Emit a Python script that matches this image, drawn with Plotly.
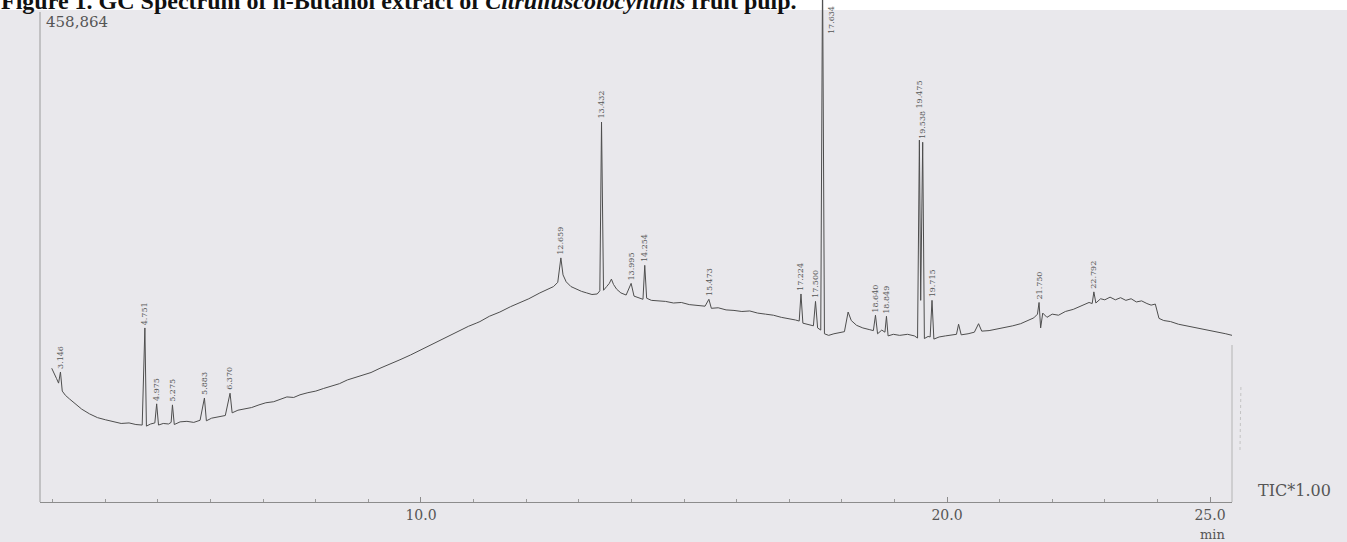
import plotly.graph_objects as go

# ---------------- data ----------------
retention_min = [
    2.98, 3.02, 3.07, 3.11, 3.146, 3.18, 3.24, 3.32, 3.42, 3.55, 3.70, 3.85, 4.00, 4.15, 4.30, 4.45,
    4.58, 4.70, 4.751, 4.78, 4.86, 4.94, 4.975, 5.01, 5.10, 5.20, 5.25, 5.275, 5.31, 5.42, 5.55, 5.68,
    5.80, 5.883, 5.92, 6.02, 6.15, 6.28, 6.370, 6.41, 6.52, 6.65, 6.78, 6.92, 7.05, 7.20, 7.32, 7.45,
    7.58, 7.70, 7.85, 8.00, 8.15, 8.30, 8.45, 8.60, 8.75, 8.90, 9.05, 9.22, 9.40, 9.60, 9.80, 9.98,
    10.15, 10.36, 10.55, 10.74, 10.90, 11.05, 11.12, 11.30, 11.50, 11.70, 11.88, 12.05, 12.26, 12.40,
    12.52, 12.60, 12.659, 12.70, 12.76, 12.85, 12.95, 13.05, 13.15, 13.25, 13.35, 13.40, 13.432, 13.47,
    13.53, 13.58, 13.62, 13.66, 13.72, 13.80, 13.90, 13.995, 14.05, 14.15, 14.22, 14.254, 14.29, 14.38,
    14.50, 14.65, 14.80, 14.95, 15.10, 15.25, 15.40, 15.473, 15.52, 15.65, 15.80, 15.95, 16.10, 16.25,
    16.40, 16.55, 16.70, 16.85, 17.00, 17.12, 17.19, 17.224, 17.26, 17.36, 17.46, 17.500, 17.54, 17.60,
    17.634, 17.67, 17.75, 17.85, 17.95, 18.05, 18.12, 18.18, 18.28, 18.40, 18.52, 18.60, 18.640, 18.68,
    18.76, 18.82, 18.849, 18.88, 18.98, 19.10, 19.25, 19.38, 19.44, 19.475, 19.50, 19.538, 19.57, 19.64,
    19.68, 19.715, 19.75, 19.85, 19.97, 20.10, 20.18, 20.22, 20.27, 20.40, 20.52, 20.60, 20.66, 20.80,
    20.95, 21.10, 21.25, 21.40, 21.55, 21.65, 21.72, 21.750, 21.78, 21.82, 21.90, 22.00, 22.12, 22.25,
    22.40, 22.55, 22.70, 22.76, 22.792, 22.83, 22.92, 23.00, 23.10, 23.20, 23.30, 23.40, 23.50, 23.60,
    23.70, 23.80, 23.88, 23.96, 24.03, 24.12, 24.25, 24.40, 24.55, 24.70, 24.85, 25.00, 25.15, 25.30,
    25.42,
]
tic_counts = [
    126000, 121000, 116500, 112000, 122500, 104500, 100500, 97000, 92500, 87500, 83000, 79500, 77500, 75500, 74000, 74500,
    73000, 72500, 164000, 71500, 73500, 74500, 92500, 72500, 74000, 73500, 75000, 91500, 73000, 75500, 76000, 75000,
    77000, 98000, 76500, 79000, 80500, 81500, 102500, 84000, 86500, 87500, 89000, 91500, 93500, 94500, 97000, 99000,
    98500, 101000, 103000, 104500, 107000, 109500, 111500, 115000, 117500, 120000, 122000, 126000, 129500, 134000, 138500, 143000,
    147500, 152500, 157500, 162000, 165500, 168500, 170000, 175000, 179000, 184000, 187500, 191500, 197000, 200500,
    203000, 207000, 230000, 214000, 207500, 203000, 200500, 198500, 197000, 195500, 196000, 199000, 358000, 199500,
    203000, 206000, 210000, 205000, 200500, 197000, 195000, 206000, 194000, 192500, 191000, 223000, 192000, 190000,
    189500, 189000, 187500, 188000, 186000, 185500, 184500, 191000, 182500, 183000, 181000, 180500, 179500, 180000,
    178000, 177000, 176000, 174000, 173000, 171500, 170500, 196000, 168500, 167500, 166000, 189000, 164000, 162000,
    500000, 158500, 157000, 158500, 159500, 160500, 179000, 171000, 166500, 164000, 162500, 161500, 176000, 158500,
    162000, 160000, 175000, 156500, 158000, 157000, 158000, 156500, 154500, 341000, 190000, 339000, 154000, 156000,
    155500, 190000, 153500, 155500, 156500, 157000, 158000, 167500, 157500, 158500, 160000, 168000, 161000, 161500,
    163000, 164000, 166000, 168000, 171000, 173500, 177000, 188000, 164000, 178000, 174000, 177000, 176000, 179500,
    181500, 184500, 188000, 187000, 198000, 187500, 191500, 190500, 193000, 190500, 192500, 190000, 191500, 188500,
    189500, 187000, 185500, 186500, 173000, 171000, 170000, 167500, 166000, 164500, 163000, 162000, 160500, 158500,
    157000,
]

peak_rt = [3.146, 4.751, 4.975, 5.275, 5.883, 6.370, 12.659, 13.432, 13.995, 14.254, 15.473,
           17.224, 17.500, 17.634, 18.640, 18.849, 19.475, 19.538, 19.715, 21.750, 22.792]
peak_labels = ["3.146", "4.751", "4.975", "5.275", "5.883", "6.370", "12.659", "13.432", "13.995",
               "14.254", "15.473", "17.224", "17.500", "17.634", "18.640", "18.849", "19.475",
               "19.538", "19.715", "21.750", "22.792"]

full_scale = 458864
x_ticks = [10, 20, 25]
x_tick_labels = ["10.0", "20.0", "25.0"]
minor_ticks = list(range(3, 26))

X_RANGE = [2.757, 25.418]
Y_RANGE = [0, 473000]

# ---------------- figure ----------------
GRAY = "#555555"
fig = go.Figure()
fig.add_trace(go.Scatter(
    x=retention_min, y=tic_counts, mode="lines",
    line=dict(color="#4e4e4e", width=1), hoverinfo="x+y", showlegend=False,
))

annotations = []
n = len(peak_rt)
for i, (t, lab) in enumerate(zip(peak_rt, peak_labels)):
    tip = tic_counts[retention_min.index(t)]
    if tip >= Y_RANGE[1]:
        annotations.append(dict(x=t, y=Y_RANGE[1], xref="x", yref="y", text=lab, textangle=-90,
                                showarrow=False, xanchor="left", yanchor="top", xshift=2, yshift=-4,
                                font=dict(family="DejaVu Serif", size=8, color=GRAY)))
        continue
    shift = 1
    # stack label above its close neighbour
    if i + 1 < n and peak_rt[i + 1] - t < 0.08:
        shift += 29
    annotations.append(dict(x=t, y=tip, xref="x", yref="y", text=lab, textangle=-90,
                            showarrow=False, xanchor="center", yanchor="bottom", yshift=shift,
                            font=dict(family="DejaVu Serif", size=8, color=GRAY)))

PLOT_H = 502.0
def py(p):  # pixel from top -> paper y
    return (PLOT_H - p) / PLOT_H

annotations += [
    dict(text="<b>Figure 1. GC Spectrum of n-Butanol extract of <i>Citrulluscolocynthis</i> fruit pulp.</b>",
         xref="paper", yref="paper", x=0, y=1, xanchor="left", yanchor="bottom", xshift=-41, yshift=-16,
         showarrow=False, font=dict(family="Liberation Serif", size=24, color="#111111")),
    dict(text=f"{full_scale:,}", xref="paper", yref="paper", x=0, y=py(22), xanchor="left",
         yanchor="middle", xshift=4, showarrow=False,
         font=dict(family="DejaVu Serif", size=15, color=GRAY)),
    dict(text="TIC*1.00", xref="paper", yref="paper", x=1, y=py(490), xanchor="left",
         yanchor="middle", xshift=24, showarrow=False,
         font=dict(family="DejaVu Serif", size=16, color=GRAY)),
    dict(text="min", xref="x", yref="paper", x=25.05, y=0, xanchor="center", yanchor="middle",
         yshift=-32, showarrow=False, font=dict(family="DejaVu Serif", size=13, color=GRAY)),
]

shapes = [
    dict(type="rect", xref="paper", yref="paper", x0=-0.05, x1=1.2, y0=py(10), y1=1.02,
         fillcolor="white", line=dict(width=0), layer="below"),
    dict(type="line", xref="paper", yref="paper", x0=0, x1=0, y0=0, y1=py(12),
         line=dict(color="#9a9a9a", width=1)),
    dict(type="line", xref="paper", yref="paper", x0=1, x1=1, y0=0, y1=py(345),
         line=dict(color="#b4b4b4", width=1)),
    dict(type="line", xref="paper", yref="paper", x0=1.0067, x1=1.0075, y0=py(450), y1=py(385),
         line=dict(color="#c4c4c4", width=1, dash="dot")),
]

fig.update_layout(
    width=1347, height=542,
    margin=dict(l=40, r=115, t=0, b=40),
    paper_bgcolor="#e9e8ec", plot_bgcolor="#e9e8ec",
    annotations=annotations, shapes=shapes,
    xaxis=dict(range=X_RANGE, showgrid=False, zeroline=False, showline=True,
               linecolor="#8c8c8c", linewidth=1, ticks="inside", ticklen=5, tickcolor="#8c8c8c",
               tickvals=x_ticks, ticktext=x_tick_labels, ticklabelstandoff=0,
               tickfont=dict(family="DejaVu Serif", size=14, color=GRAY),
               minor=dict(tickvals=minor_ticks, ticks="inside", ticklen=3, tickcolor="#9a9a9a")),
    yaxis=dict(range=Y_RANGE, visible=False, showgrid=False, zeroline=False),
)

fig.write_html("out.html", config={"displayModeBar": False},
               post_script="document.body.style.margin='0';document.body.style.padding='0';")
